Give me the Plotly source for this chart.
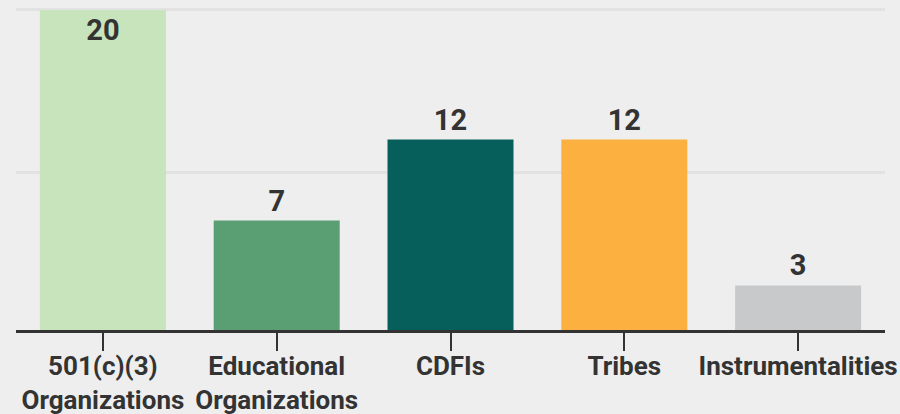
import plotly.graph_objects as go

categories = ["501(c)(3)<br>Organizations", "Educational<br>Organizations", "CDFIs", "Tribes", "Instrumentalities"]
values = [20, 7, 12, 12, 3]
bar_colors = ["#c7e4bd", "#5a9e74", "#075f5b", "#fbb040", "#c8c9cb"]
text_positions = ["inside", "outside", "outside", "outside", "outside"]

label_font = dict(family="Roboto", size=29, color="#333333", weight="bold")

fig = go.Figure(go.Bar(
    x=categories,
    y=values,
    marker=dict(color=bar_colors, line=dict(width=0)),
    text=[str(v) for v in values],
    textposition=text_positions,
    insidetextanchor="end",
    textfont=label_font,
    insidetextfont=label_font,
    outsidetextfont=label_font,
    constraintext="none",
    cliponaxis=False,
    hoverinfo="skip",
))

fig.update_layout(
    width=900, height=414,
    margin=dict(l=16, r=15, t=8, b=84, autoexpand=False),
    paper_bgcolor="#eeeeee",
    plot_bgcolor="#eeeeee",
    bargap=0.275,
    showlegend=False,
    font=dict(family="Roboto", color="#333333"),
)
fig.update_xaxes(
    automargin=False,
    showline=True, linecolor="#333333", linewidth=3,
    ticks="outside", ticklen=18, tickwidth=2, tickcolor="#333333",
    tickfont=dict(family="Roboto", size=26, color="#333333", weight="bold"),
    ticklabelstandoff=-7,
    showgrid=False,
)
fig.update_yaxes(
    automargin=False,
    range=[0.25, 20.12], tickvals=[10, 20], showticklabels=False,
    showgrid=True, gridcolor="#e2e2e2", gridwidth=3,
    zeroline=False, showline=False,
)

fig.write_html(
    "out.html",
    config={"displayModeBar": False},
    post_script="document.body.style.margin='0';document.body.style.background='#eeeeee';",
)
